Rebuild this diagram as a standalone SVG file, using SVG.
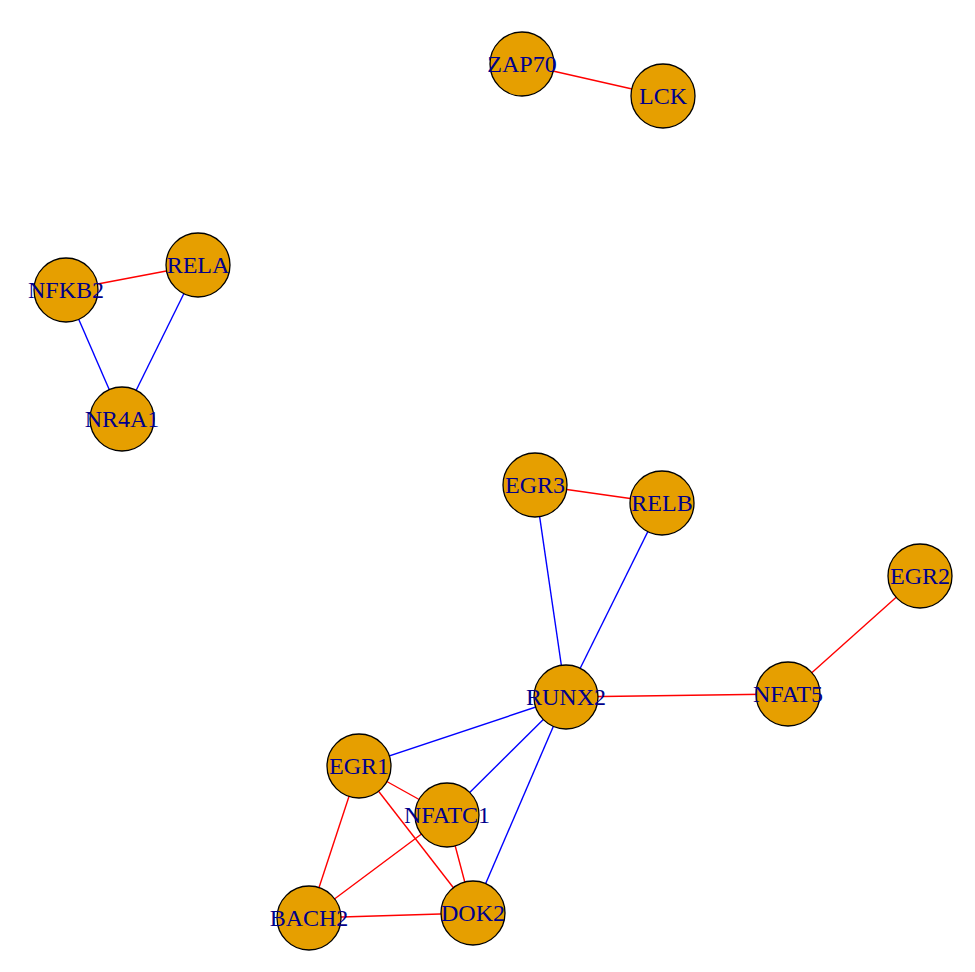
<svg xmlns="http://www.w3.org/2000/svg" width="975" height="972" viewBox="0 0 975 972">
<style>
.r{stroke:#FF0000;stroke-width:1.4;fill:none}
.b{stroke:#0000FF;stroke-width:1.4;fill:none}
.n circle{fill:#E69F00;stroke:#000000;stroke-width:1.3}
.n text{font-family:"Liberation Serif","Times New Roman",serif;font-size:24px;fill:#00008B;text-anchor:middle}
</style>
<rect width="975" height="972" fill="#FFFFFF"/>
<g id="edges">
<line class="r" x1="522" y1="64" x2="663" y2="96"/>
<line class="r" x1="66" y1="290" x2="198" y2="265"/>
<line class="b" x1="66" y1="290" x2="122" y2="419"/>
<line class="b" x1="198" y1="265" x2="122" y2="419"/>
<line class="r" x1="535" y1="485" x2="662" y2="503"/>
<line class="b" x1="535" y1="485" x2="566" y2="697"/>
<line class="b" x1="662" y1="503" x2="566" y2="697"/>
<line class="r" x1="920" y1="576" x2="788" y2="694"/>
<line class="r" x1="566" y1="697" x2="788" y2="694"/>
<line class="b" x1="566" y1="697" x2="359" y2="766"/>
<line class="b" x1="566" y1="697" x2="447" y2="815"/>
<line class="b" x1="566" y1="697" x2="473" y2="913"/>
<line class="r" x1="359" y1="766" x2="447" y2="815"/>
<line class="r" x1="359" y1="766" x2="309" y2="918"/>
<line class="r" x1="359" y1="766" x2="473" y2="913"/>
<line class="r" x1="447" y1="815" x2="309" y2="918"/>
<line class="r" x1="447" y1="815" x2="473" y2="913"/>
<line class="r" x1="309" y1="918" x2="473" y2="913"/>
</g>
<g id="ZAP70" class="n"><circle cx="522" cy="64" r="32"/><text x="522" y="72">ZAP70</text></g>
<g id="LCK" class="n"><circle cx="663" cy="96" r="32"/><text x="663" y="104">LCK</text></g>
<g id="RELA" class="n"><circle cx="198" cy="265" r="32"/><text x="198" y="273">RELA</text></g>
<g id="NFKB2" class="n"><circle cx="66" cy="290" r="32"/><text x="66" y="298">NFKB2</text></g>
<g id="NR4A1" class="n"><circle cx="122" cy="419" r="32"/><text x="122" y="427">NR4A1</text></g>
<g id="EGR3" class="n"><circle cx="535" cy="485" r="32"/><text x="535" y="493">EGR3</text></g>
<g id="RELB" class="n"><circle cx="662" cy="503" r="32"/><text x="662" y="511">RELB</text></g>
<g id="EGR2" class="n"><circle cx="920" cy="576" r="32"/><text x="920" y="584">EGR2</text></g>
<g id="RUNX2" class="n"><circle cx="566" cy="697" r="32"/><text x="566" y="705">RUNX2</text></g>
<g id="NFAT5" class="n"><circle cx="788" cy="694" r="32"/><text x="788" y="702">NFAT5</text></g>
<g id="EGR1" class="n"><circle cx="359" cy="766" r="32"/><text x="359" y="774">EGR1</text></g>
<g id="NFATC1" class="n"><circle cx="447" cy="815" r="32"/><text x="447" y="823">NFATC1</text></g>
<g id="BACH2" class="n"><circle cx="309" cy="918" r="32"/><text x="309" y="926">BACH2</text></g>
<g id="DOK2" class="n"><circle cx="473" cy="913" r="32"/><text x="473" y="921">DOK2</text></g>
</svg>
